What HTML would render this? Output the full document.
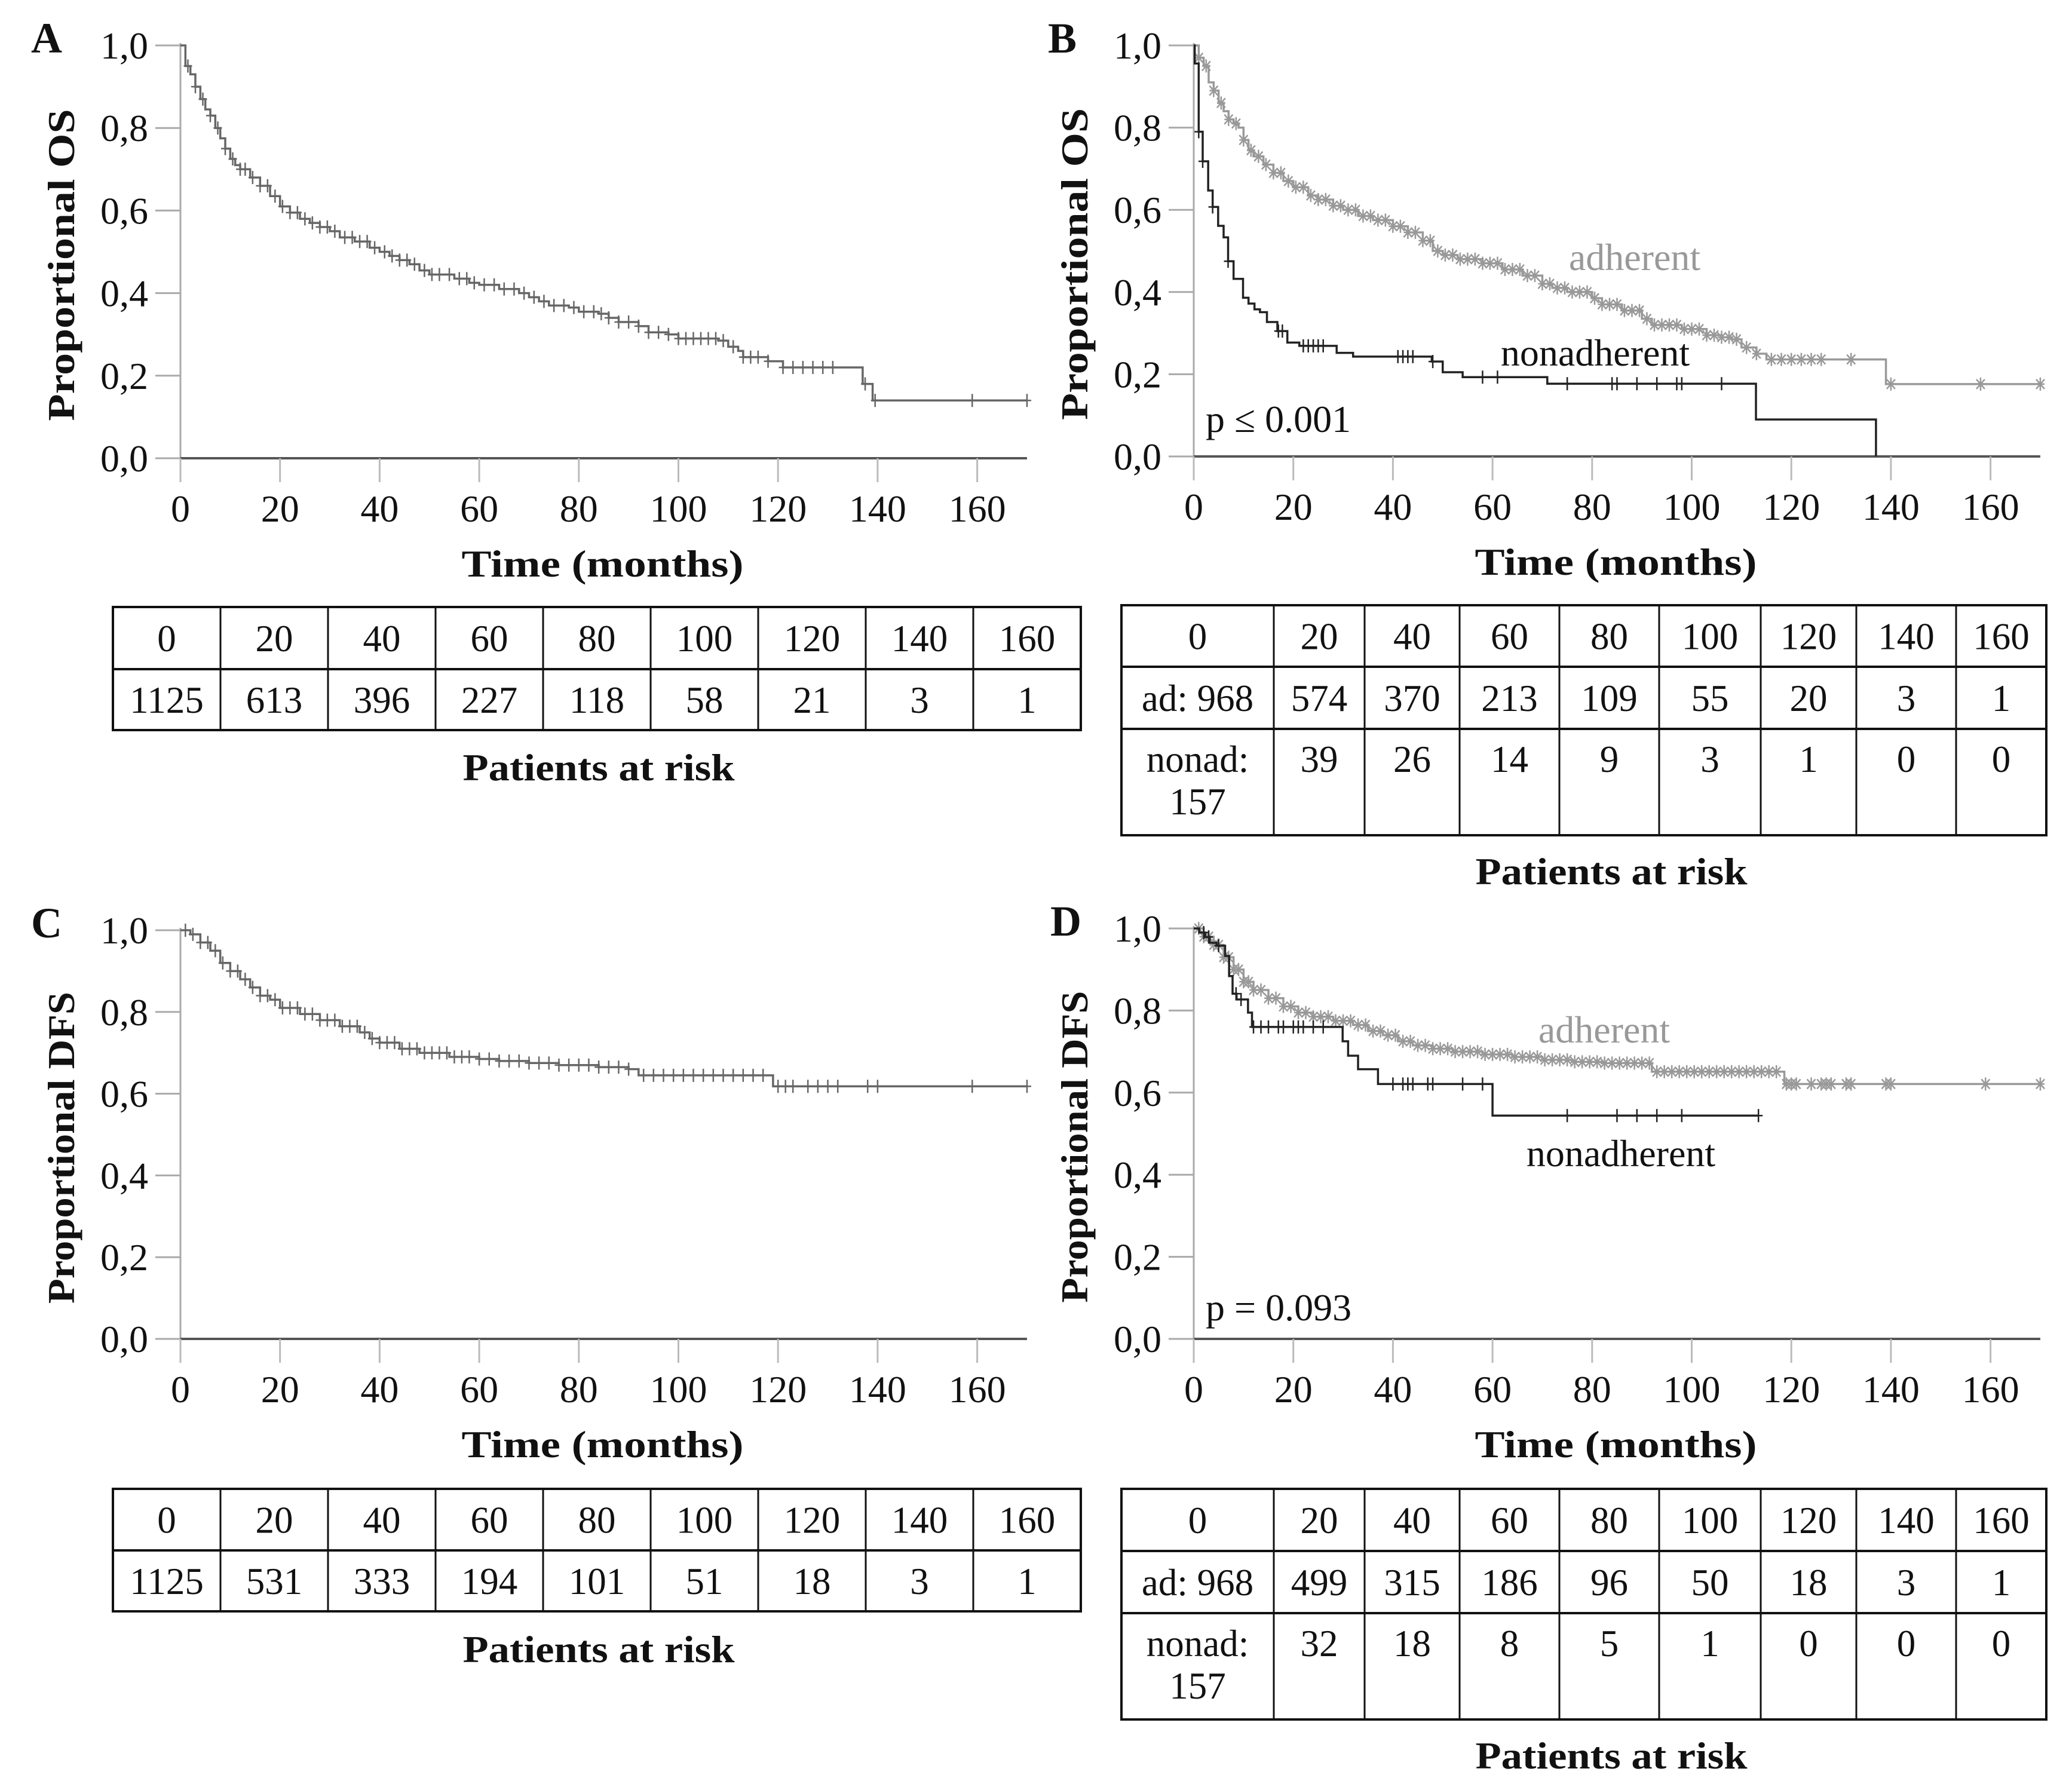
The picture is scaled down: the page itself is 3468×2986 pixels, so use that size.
<!DOCTYPE html>
<html><head><meta charset="utf-8"><style>
html,body{margin:0;padding:0;background:#fff}
svg{display:block}
text{font-family:"Liberation Serif",serif;fill:#111}
.tk{font-size:64px}
.bt{font-size:64px;font-weight:bold}
.tb{font-size:63px}
</style></head><body>
<svg id="fig" xmlns="http://www.w3.org/2000/svg" width="3468" height="2986" viewBox="0 0 3468 2986"></svg>
<script>
// ---- data ----
const xTicks=[0,20,40,60,80,100,120,140,160];
const yTicks=[0,0.2,0.4,0.6,0.8,1.0];
const yTickLabels=["0,0","0,2","0,4","0,6","0,8","1,0"];
const riskTimes=["0","20","40","60","80","100","120","140","160"];
const riskA=["1125","613","396","227","118","58","21","3","1"];
const riskB_ad=["ad: 968","574","370","213","109","55","20","3","1"];
const riskB_non=["39","26","14","9","3","1","0","0"];
const riskC=["1125","531","333","194","101","51","18","3","1"];
const riskD_ad=["ad: 968","499","315","186","96","50","18","3","1"];
const riskD_non=["32","18","8","5","1","0","0","0"];

const osAllT=[0,1,2,3,4,5,6,7,8,9,10,11,12,14,16,18,20,22,24,26,28,30,32,35,38,40,42,44,46,48,50,55,58,60,64,68,70,72,74,78,80,84,86,88,92,94,98,100,108,110,112,113,118,121,137,139];
const osAllS=[1,0.95,0.93,0.90,0.87,0.845,0.83,0.80,0.775,0.75,0.725,0.71,0.70,0.68,0.66,0.635,0.61,0.595,0.58,0.57,0.56,0.55,0.535,0.525,0.51,0.50,0.49,0.48,0.47,0.455,0.445,0.435,0.425,0.42,0.41,0.40,0.39,0.38,0.37,0.365,0.355,0.35,0.34,0.33,0.32,0.305,0.30,0.29,0.285,0.27,0.26,0.245,0.235,0.22,0.18,0.14];
const osAllC=[1.5,3,4.5,6,7.5,9,10.5,12,13,14.5,16,17.5,19,20.5,22,23.5,25,26.5,28,29.5,31,33,34.5,36,37.5,39,41,42.5,44,45.5,47,49,50.5,52,54,56,57.5,59,61,63,65,67,69,71,73,75,77,79,81,83,84.5,86,88,90,92,94,96,98,100,101.5,103,104.5,106,107.5,109,111,113,114.5,116,118,121,123,125,127,129,131,137.5,139.5,159,170];

const osAdT=[0,1,2,3,4,5,6,7,8,9,10,11,12,14,16,18,20,23,25,28,30,33,36,40,43,46,48,50,53,58,62,66,70,72,75,80,82,86,90,92,98,103,106,108,110,113,115,139];
const osAdS=[1,0.97,0.95,0.91,0.89,0.86,0.84,0.82,0.81,0.80,0.77,0.745,0.73,0.71,0.69,0.67,0.655,0.635,0.625,0.61,0.60,0.585,0.575,0.56,0.545,0.525,0.50,0.49,0.48,0.47,0.455,0.44,0.42,0.41,0.40,0.385,0.37,0.355,0.335,0.32,0.31,0.295,0.29,0.285,0.265,0.25,0.236,0.176];
const osAdC=[1,2.5,4,5.5,7,8.5,10,11.5,13,14.5,16,17.5,19,20.5,22,23.5,25,26.5,28,29.5,31,32.5,34,35.5,37,38.5,40,41.5,43,44.5,46,47.5,49,50.5,52,53.5,55,56.5,58,59.5,61,62.5,64,65.5,67,68.5,70,71.5,73,74.5,76,77.5,79,80.5,82,83.5,85,86.5,88,89.5,91,92.5,94,95.5,97,98.5,100,101.5,103,104.5,106,107.5,109,111,113,116,118,120,122,124,126,132,140,158,170];
const osNonT=[0,0.2,1,1.8,2.9,3.8,4.9,6,6.9,8,9.9,11,12.2,13.3,14.7,16.8,18.8,21.2,28.7,32,47.8,50,54,71,112.9,137];
const osNonS=[1,0.956,0.79,0.718,0.647,0.607,0.561,0.533,0.475,0.432,0.386,0.372,0.358,0.351,0.327,0.305,0.277,0.269,0.252,0.243,0.231,0.205,0.193,0.177,0.09,0];
const osNonC=[1,1.8,3.8,6.9,17,17.8,22,23,24,25,26,41,42,43,44,48,58,61,75,84,85,89,93,97,98,106];

const dfsAllT=[0,2,4,6,8,10,12,14,16,18,20,24,28,32,36,38,40,44,48,54,60,64,70,76,84,90,92,119];
const dfsAllS=[1,0.99,0.97,0.95,0.92,0.90,0.88,0.86,0.84,0.83,0.81,0.795,0.78,0.765,0.75,0.735,0.725,0.71,0.70,0.69,0.685,0.68,0.675,0.67,0.665,0.66,0.645,0.618];
const dfsAllC=[1,2.5,4,5.5,7,8.5,10,11.5,13,14.5,16,17.5,19,20.5,22,23.5,25,26.5,28,29.5,31,32.5,34,35.5,37,38.5,40,41.5,43,44.5,46,47.5,49,50.5,52,53.5,55,56.5,58,60,62,64,66,68,70,72,74,76,78,80,82,84,86,88,90,93,95,97,99,101,103,105,107,109,111,113,115,117,120,121.5,123,126,128,130,132,138,140,159,170];

const dfsAdT=[0,2,4,6,8,10,12,15,18,21,24,28,32,35,38,41,44,48,52,58,64,70,76,82,92,118.6];
const dfsAdS=[1,0.98,0.96,0.93,0.90,0.87,0.85,0.83,0.81,0.795,0.785,0.775,0.765,0.75,0.74,0.725,0.715,0.707,0.70,0.693,0.687,0.68,0.675,0.672,0.651,0.621];
const dfsAdC=[1,2,3,4,5,6,7,8,9,10,11,12,13.5,15,16.5,18,19.5,21,22.5,24,25.5,27,28.5,30,31.5,33,34.5,36,37.5,39,40.5,42,43.5,45,46.5,48,49.5,51,52.5,54,55.5,57,58.5,60,61.5,63,64.5,66,67.5,69,70.5,72,73.5,75,76.5,78,79.5,81,82.5,84,85.5,87,88.5,90,91.5,93,94.5,96,97.5,99,100.5,102,103.5,105,106.5,108,109.5,111,112.5,114,115.5,117,119,120,121,124,126,127,128,131,132,139,140,159,170];
const dfsNonT=[0,1.1,2.3,3.2,4.6,6.3,7.1,7.8,8.6,10.9,11.7,29.9,31,33,37,60];
const dfsNonS=[1,0.99,0.979,0.965,0.958,0.933,0.884,0.841,0.827,0.795,0.76,0.725,0.69,0.657,0.621,0.544];
const dfsNonC=[2,3,5,8.5,9.5,12,13.5,15,17,18,20,21,22,24,26,40,42,43,44,47,48,54,58,75,85,89,93,98,113.4];

// ---- layout ----
const NS="http://www.w3.org/2000/svg";
const svg=document.getElementById('fig');
function mk(tag,attrs,parent,txt){const e=document.createElementNS(NS,tag);for(const k in attrs)e.setAttribute(k,attrs[k]);if(txt!==undefined)e.textContent=txt;(parent||svg).appendChild(e);return e;}

function panel(o){
  const g=mk('g',{});
  
  
  const x=t=>o.x0+t*o.pxm;
  const y=s=>o.yb-(o.yb-o.yt)*s;
  const xEnd=x(170);
  const L=mk('text',{x:o.lx,y:o.yt+12,'font-size':72,'font-weight':'bold','text-anchor':'middle'},g,o.letter);
  
  
  mk('line',{x1:x(0),y1:y(1)-4,x2:x(0),y2:y(0)+40,stroke:'#aaa','stroke-width':3},g);
  yTicks.forEach((v,i)=>{
    mk('line',{x1:x(0)-42,y1:y(v),x2:x(0),y2:y(v),stroke:'#aaa','stroke-width':3},g);
    const t=mk('text',{x:x(0)-54,y:y(v)+22,'text-anchor':'end',class:'tk'},g,yTickLabels[i]);
    
    
  });
  mk('line',{x1:x(0),y1:y(0),x2:xEnd,y2:y(0),stroke:'#555','stroke-width':4},g);
  xTicks.forEach(v=>{
    mk('line',{x1:x(v),y1:y(0),x2:x(v),y2:y(0)+40,stroke:'#bbb','stroke-width':3},g);
    const t=mk('text',{x:x(v),y:y(0)+106,'text-anchor':'middle',class:'tk'},g,String(v));
    
    
  });
  const xt=mk('text',{x:x(0)+(xEnd-x(0))/2-2,y:y(0)+198,'text-anchor':'middle',class:'bt','font-size':66,textLength:472,lengthAdjust:'spacingAndGlyphs'},g,'Time (months)');
  
  
  const cy=(o.yt+o.yb)/2+22;
  const yt=mk('text',{x:0,y:0,transform:`translate(${o.ytx},${cy}) rotate(-90)`,'text-anchor':'middle',class:'bt','font-size':68,textLength:522,lengthAdjust:'spacingAndGlyphs'},g,o.ytitle);
  
  
  o.series.forEach(s=>{
    let d=`M${x(0)},${y(s.S[0])}`;
    for(let i=1;i<s.T.length;i++){d+=`H${x(s.T[i])}V${y(s.S[i])}`;}
    d+=`H${x(s.end)}`;
    const p=mk('path',{d:d,fill:'none',stroke:s.color,'stroke-width':3.5},g);
    
    
    const at=t=>{let v=s.S[0];for(let i=0;i<s.T.length;i++){if(s.T[i]<=t)v=s.S[i];}return v;};
    s.C.forEach(c=>{
      const cx=x(c),cyy=y(at(c));
      let dd=`M${cx},${cyy-11}V${cyy+11}M${cx-7},${cyy}H${cx+7}`;
      if(s.star)dd+=`M${cx-7},${cyy-8}L${cx+7},${cyy+8}M${cx-7},${cyy+8}L${cx+7},${cyy-8}`;
      const m=mk('path',{d:dd,stroke:s.color,'stroke-width':2.5,fill:'none'},g);
      
      
    });
  });
  (o.labels||[]).forEach(l=>{
    const t=mk('text',{x:l.x,y:l.y,'text-anchor':l.a||'middle',class:'tk','font-size':66,style:'fill:'+(l.c||'#111')},g,l.t);
    
    
  });
}

function table(o){
  const g=mk('g',{});
  
  
  const cols=o.cols, rows=o.rows;
  const W=cols[cols.length-1]-cols[0];
  mk('rect',{x:cols[0],y:rows[0],width:W,height:rows[rows.length-1]-rows[0],fill:'none',stroke:'#111','stroke-width':4},g);
  for(let i=1;i<cols.length-1;i++)mk('line',{x1:cols[i],y1:rows[0],x2:cols[i],y2:rows[rows.length-1],stroke:'#111','stroke-width':3},g);
  for(let j=1;j<rows.length-1;j++)mk('line',{x1:cols[0],y1:rows[j],x2:cols[cols.length-1],y2:rows[j],stroke:'#111','stroke-width':4},g);
  const cell=(txt,c,yy)=>{const t=mk('text',{x:(cols[c]+cols[c+1])/2,y:yy,'text-anchor':'middle',class:'tb'},g,txt);
    
    };
  riskTimes.forEach((v,i)=>cell(v,i,(rows[0]+rows[1])/2+22));
  o.r1.forEach((v,i)=>cell(v,i,(rows[1]+rows[2])/2+22));
  if(o.r2){
    cell('nonad:',0,rows[2]+72);cell('157',0,rows[2]+143);
    o.r2.forEach((v,i)=>cell(v,i+1,rows[2]+72));
  }
  const pt=mk('text',{x:o.px,y:o.py,'text-anchor':'middle',class:'bt','font-size':68,textLength:455,lengthAdjust:'spacingAndGlyphs'},g,'Patients at risk');
  
  
}

const PXM=8.335;
panel({name:'panel-a-overall-survival',letter:'A',lx:78,x0:302,pxm:PXM,yt:76,yb:767,ytx:124,ytitle:'Proportional OS',
  series:[{name:'all-patients',T:osAllT,S:osAllS,C:osAllC,end:170,color:'#666',star:false}]});
panel({name:'panel-b-overall-survival-by-adherence',letter:'B',lx:1778,x0:1998,pxm:PXM,yt:76,yb:764,ytx:1820,ytitle:'Proportional OS',
  series:[{name:'adherent',T:osAdT,S:osAdS,C:osAdC,end:170,color:'#999',star:true},
          {name:'nonadherent',T:osNonT,S:osNonS,C:osNonC,end:137,color:'#222',star:false}],
  labels:[{t:'adherent',x:2736,y:452,c:'#999',n:'adherent-label'},{t:'nonadherent',x:2670,y:612,n:'nonadherent-label'},{t:'p ≤ 0.001',x:2018,y:723,a:'start',n:'p-value-label'}]});
panel({name:'panel-c-disease-free-survival',letter:'C',lx:78,x0:302,pxm:PXM,yt:1557,yb:2241,ytx:124,ytitle:'Proportional DFS',
  series:[{name:'all-patients',T:dfsAllT,S:dfsAllS,C:dfsAllC,end:170,color:'#666',star:false}]});
panel({name:'panel-d-disease-free-survival-by-adherence',letter:'D',lx:1784,x0:1998,pxm:PXM,yt:1554,yb:2241,ytx:1820,ytitle:'Proportional DFS',
  series:[{name:'adherent',T:dfsAdT,S:dfsAdS,C:dfsAdC,end:170,color:'#999',star:true},
          {name:'nonadherent',T:dfsNonT,S:dfsNonS,C:dfsNonC,end:113.4,color:'#222',star:false}],
  labels:[{t:'adherent',x:2685,y:1745,c:'#999',n:'adherent-label'},{t:'nonadherent',x:2713,y:1952,n:'nonadherent-label'},{t:'p = 0.093',x:2018,y:2210,a:'start',n:'p-value-label'}]});

const colsA=[189,369,549,729,909,1089,1269,1449,1629,1809];
const colsB=[1877,2132,2284,2443,2610,2777,2947,3107,3274,3425];
table({name:'risk-table-a',cols:colsA,rows:[1016,1120,1222],r1:riskA,px:1002,py:1306});
table({name:'risk-table-b',cols:colsB,rows:[1013,1116,1220,1398],r1:riskB_ad,r2:riskB_non,px:2697,py:1480});
table({name:'risk-table-c',cols:colsA,rows:[2492,2595,2697],r1:riskC,px:1002,py:2782});
table({name:'risk-table-d',cols:colsB,rows:[2492,2596,2700,2878],r1:riskD_ad,r2:riskD_non,px:2697,py:2960});
</script>
</body></html>
